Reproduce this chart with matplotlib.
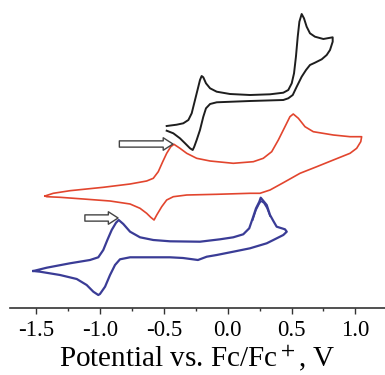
import numpy as np
import matplotlib
matplotlib.use("Agg")
import matplotlib.pyplot as plt
from matplotlib.ticker import MultipleLocator

plt.rcParams["font.family"] = ["Liberation Serif", "DejaVu Serif"]
plt.rcParams["mathtext.fontset"] = "stix"
plt.rcParams["lines.solid_joinstyle"] = "round"

# potential (V vs Fc/Fc+) and current (arb. units)
E_black = [-0.479, -0.401, -0.349, -0.309, -0.283, -0.257, -0.231, -0.218, -0.205, -0.192,
           -0.171, -0.139, -0.087, 0.017, 0.174, 0.331, 0.435, 0.474, 0.501, 0.519, 0.534,
           0.548, 0.561, 0.579, 0.597, 0.618, 0.644, 0.683, 0.749, 0.822,
           0.822, 0.801, 0.775, 0.736, 0.683, 0.644, 0.613, 0.579, 0.540, 0.509, 0.474,
           0.435, 0.174, -0.087, -0.139, -0.171, -0.192, -0.218, -0.244, -0.263, -0.275,
           -0.296, -0.335, -0.375, -0.427, -0.479]
I_black = [18.2, 18.33, 18.47, 18.8, 19.47, 20.8, 22.13, 22.8, 23.2, 23.07,
           22.47, 21.97, 21.63, 21.4, 21.3, 21.37, 21.53, 21.8, 22.47, 23.47, 25.13,
           27.13, 28.63, 29.4, 28.97, 28.13, 27.47, 27.13, 26.9, 27.07,
           26.63, 25.8, 25.3, 24.87, 24.53, 24.3, 23.8, 23.13, 22.13, 21.3, 20.97,
           20.8, 20.7, 20.57, 20.4, 19.97, 19.13, 17.8, 16.8, 16.13, 15.8,
           15.97, 16.47, 16.97, 17.47, 17.73]

E_red = [-1.433, -1.368, -1.237, -0.976, -0.766, -0.636, -0.584, -0.545, -0.510, -0.479,
         -0.447, -0.422, -0.375, -0.322, -0.244, -0.139, 0.043, 0.200, 0.278, 0.344,
         0.396, 0.448, 0.487, 0.513, 0.553, 0.605, 0.670, 0.827, 0.958, 1.049,
         1.042, 1.010, 0.958, 0.827, 0.697, 0.566, 0.435, 0.331, 0.252, 0.174,
         -0.087, -0.322, -0.427, -0.479, -0.518, -0.557, -0.578, -0.604, -0.636, -0.688,
         -0.766, -0.923, -1.132, -1.315, -1.419, -1.433]
I_red = [11.2, 11.47, 11.73, 12.07, 12.4, 12.7, 12.97, 13.63, 14.63, 15.47,
         16.13, 16.37, 15.97, 15.47, 14.97, 14.7, 14.47, 14.63, 14.97, 15.63,
         16.8, 18.13, 19.13, 19.4, 18.97, 18.13, 17.63, 17.3, 17.13, 17.13,
         16.63, 15.97, 15.47, 14.8, 14.13, 13.47, 12.53, 11.8, 11.47, 11.47,
         11.37, 11.3, 11.13, 10.8, 10.13, 9.3, 8.8, 9.07, 9.47, 9.97,
         10.4, 10.7, 10.9, 11.07, 11.13, 11.2]

E_blue = [-1.524, -1.419, -1.237, -1.080, -1.015, -0.976, -0.944, -0.910, -0.876, -0.855,
          -0.819, -0.766, -0.688, -0.584, -0.453, -0.218, -0.061, 0.043, 0.121, 0.168,
          0.195, 0.221, 0.247, 0.258, 0.305, 0.331, 0.357, 0.383, 0.448, 0.462,
          0.435, 0.357, 0.305, 0.174, 0.043, -0.087, -0.165, -0.234, -0.351, -0.453,
          -0.766, -0.845, -0.884, -0.923, -0.962, -1.002, -1.015, -1.054, -1.106, -1.184,
          -1.315, -1.472, -1.524]
I_blue = [3.7, 4.03, 4.47, 4.8, 5.07, 5.8, 6.8, 7.8, 8.53, 8.8,
          8.4, 7.63, 7.07, 6.8, 6.67, 6.63, 6.87, 7.07, 7.37, 7.97,
          8.97, 9.97, 10.63, 11.03, 10.3, 9.3, 8.7, 8.13, 7.87, 7.63,
          7.3, 6.8, 6.47, 5.97, 5.63, 5.3, 5.13, 4.8, 5.0, 5.07,
          5.07, 4.87, 4.3, 3.3, 2.13, 1.4, 1.3, 1.63, 2.3, 2.9,
          3.3, 3.63, 3.7]

# second scan of the blue trace, only visible as a separate line at the 0.28 V peak
E_blue_scan2 = [0.195, 0.221, 0.245, 0.260, 0.283, 0.307, 0.331]
I_blue_scan2 = [8.8, 9.8, 10.4, 10.7, 10.5, 10.0, 9.2]

# hollow arrows marking the onset peaks: (tail, tip)
arrow_red = [(-0.85, 16.4), (-0.43, 16.4)]
arrow_blue = [(-1.12, 9.0), (-0.86, 9.0)]

fig = plt.figure(figsize=(3.85, 3.75), dpi=100)
ax = fig.add_axes([10 / 385, 67 / 375, 375 / 385, 308 / 375])

ax.plot(E_black, I_black, color="#1e1e1e", lw=1.4)
ax.plot(E_red, I_red, color="#e2452e", lw=1.2)
ax.plot(E_blue, I_blue, color="#3a3c96", lw=1.6)
ax.plot(E_blue_scan2, I_blue_scan2, color="#3a3c96", lw=1.2)

for tail, tip in [arrow_red, arrow_blue]:
    ax.annotate("", xy=tip, xytext=tail,
                arrowprops=dict(arrowstyle="simple,head_length=0.7,head_width=0.9,tail_width=0.45",
                                fc="white", ec="#444444", lw=1.0, shrinkA=0, shrinkB=0))

ax.set_xlim(-1.707, 1.232)
ax.set_ylim(0, 30.8)

for s in ["top", "left", "right"]:
    ax.spines[s].set_visible(False)
ax.spines["bottom"].set_color("#333333")
ax.spines["bottom"].set_linewidth(1.2)
ax.set_yticks([])

ax.xaxis.set_major_locator(MultipleLocator(0.5))
ax.xaxis.set_minor_locator(MultipleLocator(0.25))
ax.tick_params(axis="x", which="major", direction="out", length=4, width=1,
               color="#333333", labelsize=16.5, pad=5)
ax.tick_params(axis="x", which="minor", direction="out", length=2, width=1, color="#333333")
ax.set_xticklabels([f"{v:.1f}" for v in ax.get_xticks()])
ax.set_xlabel("Potential vs. Fc/Fc$^+$, V", fontsize=21, labelpad=1)

fig.savefig("out.png", dpi=100)
